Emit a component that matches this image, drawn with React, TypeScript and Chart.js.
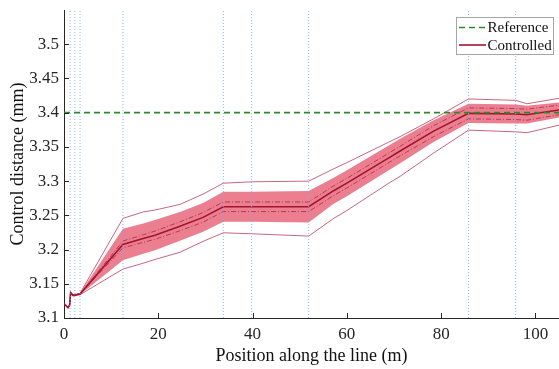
import { useEffect, useRef } from 'react';
import { Chart, registerables } from 'chart.js';

Chart.register(...registerables);

const positions = [0, 0.85, 1.2, 1.4, 1.9, 3.4, 12.5, 16.8, 19.3, 24.6, 29.5, 33.8, 40, 51.9, 57.2, 60, 68.9, 71.3, 78.4, 85.8, 95.8, 98.2, 105];
const meanValues = [3.121, 3.115, 3.119, 3.137, 3.133, 3.135, 3.2075, 3.216, 3.221, 3.234, 3.247, 3.2625, 3.2625, 3.2625, 3.286, 3.297, 3.334, 3.344, 3.373, 3.399, 3.398, 3.397, 3.404];
const bandHiValues = [3.121, 3.115, 3.119, 3.138, 3.134, 3.136, 3.2305, 3.238, 3.243, 3.255, 3.268, 3.2845, 3.2845, 3.2855, 3.305, 3.316, 3.352, 3.362, 3.389, 3.413, 3.412, 3.41, 3.415];
const bandLoValues = [3.121, 3.115, 3.119, 3.136, 3.132, 3.134, 3.1845, 3.194, 3.199, 3.213, 3.226, 3.2405, 3.2405, 3.2395, 3.267, 3.278, 3.316, 3.326, 3.357, 3.385, 3.384, 3.384, 3.393];
const sigmaHiValues = [3.121, 3.115, 3.119, 3.137, 3.133, 3.135, 3.2125, 3.2215, 3.227, 3.2405, 3.254, 3.2695, 3.2695, 3.2695, 3.293, 3.304, 3.341, 3.351, 3.381, 3.407, 3.406, 3.405, 3.411];
const sigmaLoValues = [3.121, 3.115, 3.119, 3.137, 3.133, 3.135, 3.2025, 3.2105, 3.215, 3.2275, 3.24, 3.2555, 3.2555, 3.2555, 3.279, 3.29, 3.327, 3.337, 3.365, 3.391, 3.39, 3.389, 3.397];
const maxValues = [3.121, 3.115, 3.119, 3.138, 3.134, 3.136, 3.2455, 3.255, 3.2577, 3.266, 3.281, 3.297, 3.299, 3.3, 3.318, 3.327, 3.357, 3.365, 3.391, 3.42, 3.418, 3.413, 3.421];
const minValues = [3.121, 3.115, 3.119, 3.136, 3.132, 3.134, 3.1715, 3.18, 3.1855, 3.196, 3.212, 3.2245, 3.223, 3.2197, 3.2455, 3.257, 3.297, 3.307, 3.341, 3.3745, 3.372, 3.3707, 3.3818];
const referenceValue = 3.4;
const markerPositions = [1.3, 2.3, 3.4, 12.5, 33.8, 39.8, 51.9, 85.8, 95.8];
const xTicks = [0, 20, 40, 60, 80, 100];
const yTicks = [3.1, 3.15, 3.2, 3.25, 3.3, 3.35, 3.4, 3.45, 3.5];
const xRange = [0, 105];
const yRange = [3.1, 3.55];

const FONT = "'Liberation Serif', 'DejaVu Serif', serif";
const MEAN_COLOR = 'rgb(162,20,47)';

const pts = (ys: number[]) => positions.map((x, i) => ({ x, y: ys[i] }));

const innerTicks = {
  id: 'innerTicks',
  afterDraw(chart: any) {
    const { ctx, scales } = chart;
    const xs = scales.x;
    const ys = scales.y;
    ctx.save();
    ctx.strokeStyle = '#262626';
    ctx.lineWidth = 1;
    ctx.beginPath();
    xTicks.forEach((v) => {
      const px = Math.round(xs.getPixelForValue(v)) + 0.5;
      ctx.moveTo(px, ys.bottom);
      ctx.lineTo(px, ys.bottom - 5);
    });
    yTicks.forEach((v) => {
      const py = Math.round(ys.getPixelForValue(v)) + 0.5;
      ctx.moveTo(xs.left, py);
      ctx.lineTo(xs.left + 5, py);
    });
    ctx.stroke();
    ctx.restore();
  },
};

const boxLegend = {
  id: 'boxLegend',
  afterDraw(chart: any) {
    const { ctx } = chart;
    const items = [1, 2].map((i) => chart.data.datasets[i]);
    const x0 = 456.5, y0 = 17.5, w = 97, h = 37;
    ctx.save();
    ctx.fillStyle = '#ffffff';
    ctx.fillRect(x0, y0, w, h);
    ctx.strokeStyle = '#a6a6a6';
    ctx.lineWidth = 1;
    ctx.strokeRect(x0, y0, w, h);
    ctx.font = `15px ${FONT}`;
    ctx.textBaseline = 'middle';
    ctx.textAlign = 'left';
    items.forEach((ds: any, k: number) => {
      const cy = 27.5 + k * 17.5;
      ctx.beginPath();
      ctx.setLineDash(ds.borderDash || []);
      ctx.strokeStyle = ds.borderColor;
      ctx.lineWidth = ds.borderWidth;
      ctx.moveTo(459, cy);
      ctx.lineTo(486, cy);
      ctx.stroke();
      ctx.setLineDash([]);
      ctx.fillStyle = '#111';
      ctx.fillText(ds.label, 487.5, cy + 1);
    });
    ctx.restore();
  },
};

export default function App() {
  const ref = useRef<HTMLCanvasElement>(null);

  useEffect(() => {
    if (!ref.current) return;
    const markerData: any[] = [];
    markerPositions.forEach((x) => {
      markerData.push({ x, y: yRange[0] }, { x, y: yRange[1] }, { x, y: null });
    });
    const chart = new Chart(ref.current, {
      type: 'line',
      data: {
        datasets: [
          {
            label: 'markers',
            data: markerData,
            borderColor: 'rgba(120,170,240,0.85)',
            borderWidth: 1,
            borderDash: [1, 2],
            pointRadius: 0,
            spanGaps: false,
            order: 0,
          },
          {
            label: 'Reference',
            data: [{ x: xRange[0], y: referenceValue }, { x: xRange[1], y: referenceValue }],
            borderColor: 'rgb(40,140,40)',
            borderWidth: 1.6,
            borderDash: [6, 4],
            pointRadius: 0,
            order: 1,
          },
          {
            label: 'Controlled',
            data: pts(meanValues),
            borderColor: MEAN_COLOR,
            borderWidth: 1.6,
            pointRadius: 0,
            order: 2,
          },
          {
            label: 'sigmaHi',
            data: pts(sigmaHiValues),
            borderColor: 'rgb(170,40,70)',
            borderWidth: 0.8,
            borderDash: [5, 2, 1, 2],
            pointRadius: 0,
            order: 3,
          },
          {
            label: 'sigmaLo',
            data: pts(sigmaLoValues),
            borderColor: 'rgb(170,40,70)',
            borderWidth: 0.8,
            borderDash: [5, 2, 1, 2],
            pointRadius: 0,
            order: 3,
          },
          {
            label: 'max',
            data: pts(maxValues),
            borderColor: 'rgb(190,85,115)',
            borderWidth: 0.9,
            pointRadius: 0,
            order: 4,
          },
          {
            label: 'min',
            data: pts(minValues),
            borderColor: 'rgb(190,85,115)',
            borderWidth: 0.9,
            pointRadius: 0,
            order: 4,
          },
          {
            label: 'bandLo',
            data: pts(bandLoValues),
            borderWidth: 0,
            borderColor: 'rgba(0,0,0,0)',
            pointRadius: 0,
            order: 6,
          },
          {
            label: 'bandHi',
            data: pts(bandHiValues),
            borderWidth: 0,
            borderColor: 'rgba(0,0,0,0)',
            backgroundColor: 'rgb(235,127,143)',
            fill: { target: 7 },
            pointRadius: 0,
            order: 5,
          },
        ],
      },
      options: {
        responsive: false,
        animation: false,
        devicePixelRatio: 1,
        layout: { padding: { top: 0, right: 0, left: 0, bottom: 0 } },
        plugins: {
          legend: { display: false },
          tooltip: { enabled: false },
        },
        elements: { line: { tension: 0 } },
        scales: {
          x: {
            type: 'linear',
            min: xRange[0],
            max: xRange[1],
            afterBuildTicks: (s: any) => {
              s.ticks = xTicks.map((v) => ({ value: v }));
            },
            afterFit: (s: any) => {
              s.height = 51;
            },
            grid: { drawOnChartArea: false, drawTicks: false },
            border: { color: '#262626', width: 1 },
            ticks: {
              color: '#262626',
              padding: 6,
              maxRotation: 0,
              font: { family: FONT, size: 17 },
              callback: (v: any) => String(v),
            },
            title: {
              display: true,
              text: 'Position along the line (m)',
              color: '#111',
              font: { family: FONT, size: 18 },
              padding: { top: 0, bottom: 2 },
            },
          },
          y: {
            type: 'linear',
            min: yRange[0],
            max: yRange[1],
            afterBuildTicks: (s: any) => {
              s.ticks = yTicks.map((v) => ({ value: v }));
            },
            afterFit: (s: any) => {
              s.width = 64;
              s.paddingTop = 10;
            },
            grid: { drawOnChartArea: false, drawTicks: false },
            border: { color: '#262626', width: 1 },
            ticks: {
              color: '#262626',
              padding: 5,
              font: { family: FONT, size: 17 },
              callback: (v: any) => String(+Number(v).toFixed(2)),
            },
            title: {
              display: true,
              text: 'Control distance (mm)',
              color: '#111',
              font: { family: FONT, size: 18 },
              padding: { top: 7, bottom: 0 },
            },
          },
        },
      },
      plugins: [innerTicks, boxLegend],
    } as any);
    return () => chart.destroy();
  }, []);

  return (
    <div style={{ position: 'fixed', left: 0, top: 0, width: 559, height: 369, overflow: 'hidden', background: '#fff' }}>
      <canvas ref={ref} width={559} height={369} style={{ display: 'block', width: 559, height: 369 }} />
    </div>
  );
}
